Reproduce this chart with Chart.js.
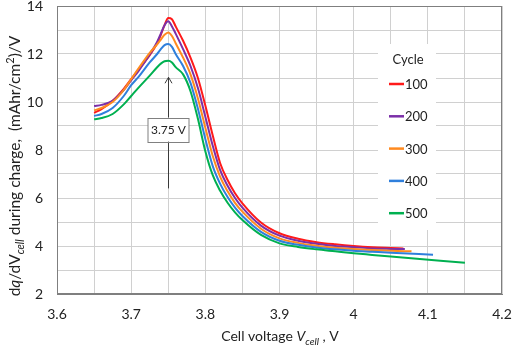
<!DOCTYPE html>
<html>
<head>
<meta charset="utf-8">
<script src="https://cdn.jsdelivr.net/npm/chart.js@4.4.1/dist/chart.umd.min.js"></script>
<style>
  html, body { margin: 0; padding: 0; background: #fff; }
  canvas { display: block; }
</style>
</head>
<body>
<canvas id="dqdvChart" width="512" height="347"></canvas>
<script>
// cycle labels and colours
const cycles = ['100', '200', '300', '400', '500'];
const colors = ['#ff1a1a', '#7b2fa8', '#ff8a1f', '#2f7fdc', '#00b050'];

// cell voltage (V) shared by all curves
const voltage = [3.65, 3.66, 3.675, 3.69, 3.70, 3.71, 3.725, 3.735, 3.74, 3.745, 3.75, 3.755, 3.76, 3.77, 3.78,
                 3.79, 3.80, 3.81, 3.82, 3.83, 3.84, 3.85, 3.875, 3.90, 3.925, 3.95, 3.975, 4.00, 4.025, 4.05];

// dq/dV values, (mAhr/cm2)/V
const cycle100 = [9.55, 9.7, 10.05, 10.55, 10.95, 11.35, 11.95, 12.45, 12.8, 13.2, 13.5, 13.45, 13.15, 12.55, 11.85,
                  11.0, 9.85, 8.6, 7.45, 6.75, 6.2, 5.78, 4.98, 4.53, 4.3, 4.16, 4.07, 4.0, 3.95, 3.92];
const cycle200 = [9.83, 9.88, 10.05, 10.5, 10.9, 11.3, 11.98, 12.5, 12.85, 13.2, 13.36, 13.15, 12.85, 12.2, 11.5,
                  10.58, 9.39, 8.18, 7.16, 6.51, 6.0, 5.6, 4.85, 4.43, 4.22, 4.09, 4.0, 3.95, 3.9, 3.88];
const cycle300 = [9.65, 9.75, 10.0, 10.5, 10.95, 11.4, 12.05, 12.4, 12.6, 12.8, 12.9, 12.75, 12.45, 11.85, 11.15,
                  10.15, 8.93, 7.75, 6.88, 6.28, 5.8, 5.43, 4.72, 4.32, 4.13, 4.01, 3.93, 3.87, 3.83, 3.8];
const cycle400 = [9.42, 9.5, 9.75, 10.25, 10.7, 11.05, 11.65, 12.0, 12.2, 12.37, 12.42, 12.3, 12.0, 11.5, 10.8,
                  9.72, 8.46, 7.33, 6.59, 6.04, 5.6, 5.25, 4.59, 4.22, 4.05, 3.94, 3.86, 3.8, 3.76, 3.72];
const cycle500 = [9.28, 9.33, 9.5, 9.9, 10.25, 10.6, 11.1, 11.45, 11.6, 11.7, 11.72, 11.65, 11.45, 11.15, 10.45,
                  9.3, 7.95, 6.95, 6.3, 5.8, 5.4, 5.08, 4.46, 4.11, 3.96, 3.86, 3.78, 3.7, 3.63, 3.56];

// where each curve stops
const endVoltage = [4.067, 4.069, 4.078, 4.107, 4.15];
const endValue = [3.9, 3.87, 3.78, 3.64, 3.3];

const allValues = [cycle100, cycle200, cycle300, cycle400, cycle500];

// annotation
const peakVoltage = 3.75;
const peakLabel = '3.75 V';

const FONT = 'Lato, "Open Sans", sans-serif';

function drawRich(ctx, parts, cx, cy, size) {
    const small = Math.round(size * 0.72);
    const fontOf = p => (p.i ? 'italic ' : '') + (p.sub || p.sup ? small : size) + 'px ' + FONT;
    let total = 0;
    parts.forEach(p => { ctx.font = fontOf(p); p.w = ctx.measureText(p.t).width; total += p.w; });
    let x = cx - total / 2;
    ctx.textBaseline = 'alphabetic';
    ctx.textAlign = 'left';
    parts.forEach(p => {
        ctx.font = fontOf(p);
        let dy = size * 0.36;
        if (p.sub) dy += size * 0.28;
        if (p.sup) dy -= size * 0.38;
        ctx.fillText(p.t, x, cy + dy);
        x += p.w;
    });
}

const extras = {
    id: 'extras',
    beforeDatasetsDraw(chart) {
        const { ctx, chartArea: a } = chart;
        ctx.save();
        ctx.strokeStyle = '#7f7f7f';
        ctx.lineWidth = 1;
        ctx.strokeRect(Math.round(a.left) + 0.5, Math.round(a.top) + 0.5,
                       Math.round(a.right - a.left) - 1, Math.round(a.bottom - a.top) - 1);
        ctx.restore();
    },
    afterDatasetsDraw(chart) {
        const { ctx } = chart;
        const xs = chart.scales.x, ys = chart.scales.y;
        ctx.save();

        // arrow and label box
        const px = Math.round(xs.getPixelForValue(peakVoltage)) + 0.5;
        const tip = ys.getPixelForValue(11.03);
        const foot = ys.getPixelForValue(6.4);
        const boxMid = ys.getPixelForValue(8.85);
        ctx.strokeStyle = '#3a3a3a';
        ctx.lineWidth = 1;
        ctx.beginPath();
        ctx.moveTo(px, foot);
        ctx.lineTo(px, tip);
        ctx.moveTo(px - 3.5, tip + 6);
        ctx.lineTo(px, tip);
        ctx.lineTo(px + 3.5, tip + 6);
        ctx.stroke();
        ctx.fillStyle = '#fff';
        ctx.fillRect(px - 20.5, boxMid - 12, 41, 24);
        ctx.strokeStyle = '#808080';
        ctx.strokeRect(px - 20.5, Math.round(boxMid - 12) + 0.5, 41, 24);
        ctx.fillStyle = '#222';
        ctx.font = '12px ' + FONT;
        ctx.textAlign = 'center';
        ctx.textBaseline = 'middle';
        ctx.fillText(peakLabel, px, boxMid + 1);

        // legend
        ctx.fillStyle = '#fff';
        ctx.fillRect(378, 44, 58, 186);
        ctx.fillStyle = '#222';
        ctx.font = '13px ' + FONT;
        ctx.textAlign = 'center';
        ctx.fillText('Cycle', 408, 60);
        ctx.textAlign = 'left';
        cycles.forEach((c, i) => {
            const y = 84 + i * 32.3;
            ctx.strokeStyle = colors[i];
            ctx.lineWidth = 2.5;
            ctx.beginPath();
            ctx.moveTo(389, y);
            ctx.lineTo(404, y);
            ctx.stroke();
            ctx.fillStyle = '#222';
            ctx.fillText(c, 405, y + 1);
        });

        // axis titles
        ctx.fillStyle = '#222';
        drawRich(ctx, [{ t: 'Cell voltage ' }, { t: 'V', i: 1 }, { t: 'cell', i: 1, sub: 1 }, { t: ' , V' }], 280, 336, 14);
        ctx.translate(14, 166);
        ctx.rotate(-Math.PI / 2);
        drawRich(ctx, [{ t: 'd' }, { t: 'q', i: 1 }, { t: '/dV' }, { t: 'cell', i: 1, sub: 1 },
                       { t: ' during charge,  (mAhr/cm' }, { t: '2', sup: 1 }, { t: ')/V' }], 0, 0, 15.5);
        ctx.restore();
    }
};

document.addEventListener('DOMContentLoaded', () => {
    const ctx = document.getElementById('dqdvChart').getContext('2d');

    const datasets = cycles.map((c, i) => {
        const pts = voltage.map((v, j) => ({ x: v, y: allValues[i][j] }));
        pts.push({ x: endVoltage[i], y: endValue[i] });
        return {
            label: c,
            data: pts,
            borderColor: colors[i],
            borderWidth: 2,
            pointRadius: 0,
            fill: false,
            cubicInterpolationMode: 'monotone'
        };
    });
    // draw cycle 100 last so it sits on top
    datasets.reverse();

    new Chart(ctx, {
        type: 'line',
        data: { datasets: datasets },
        options: {
            responsive: false,
            animation: false,
            devicePixelRatio: 1,
            layout: { padding: { top: 6, right: 10, left: 0, bottom: 0 } },
            plugins: { legend: { display: false }, tooltip: { enabled: false } },
            scales: {
                x: {
                    type: 'linear',
                    min: 3.6,
                    max: 4.2,
                    grid: { color: '#d0d0d0', drawTicks: false },
                    border: { color: '#7f7f7f' },
                    ticks: {
                        stepSize: 0.05,
                        autoSkip: false,
                        maxRotation: 0,
                        padding: 12,
                        color: '#222',
                        font: { family: FONT, size: 14 },
                        callback: v => Math.abs(v * 10 - Math.round(v * 10)) < 1e-6 ? String(Math.round(v * 10) / 10) : ''
                    },
                    afterFit: s => { s.height = 53; s.paddingLeft = 0; s.paddingRight = 0; }
                },
                y: {
                    min: 2,
                    max: 14,
                    grid: { color: '#d0d0d0', drawTicks: false },
                    border: { color: '#7f7f7f' },
                    ticks: {
                        stepSize: 1,
                        padding: 14,
                        color: '#222',
                        font: { family: FONT, size: 14 },
                        callback: v => v % 2 === 0 ? String(v) : ''
                    },
                    afterFit: s => { s.width = 57; s.paddingTop = 0; s.paddingBottom = 0; }
                }
            }
        },
        plugins: [extras]
    });
});
</script>
</body>
</html>
